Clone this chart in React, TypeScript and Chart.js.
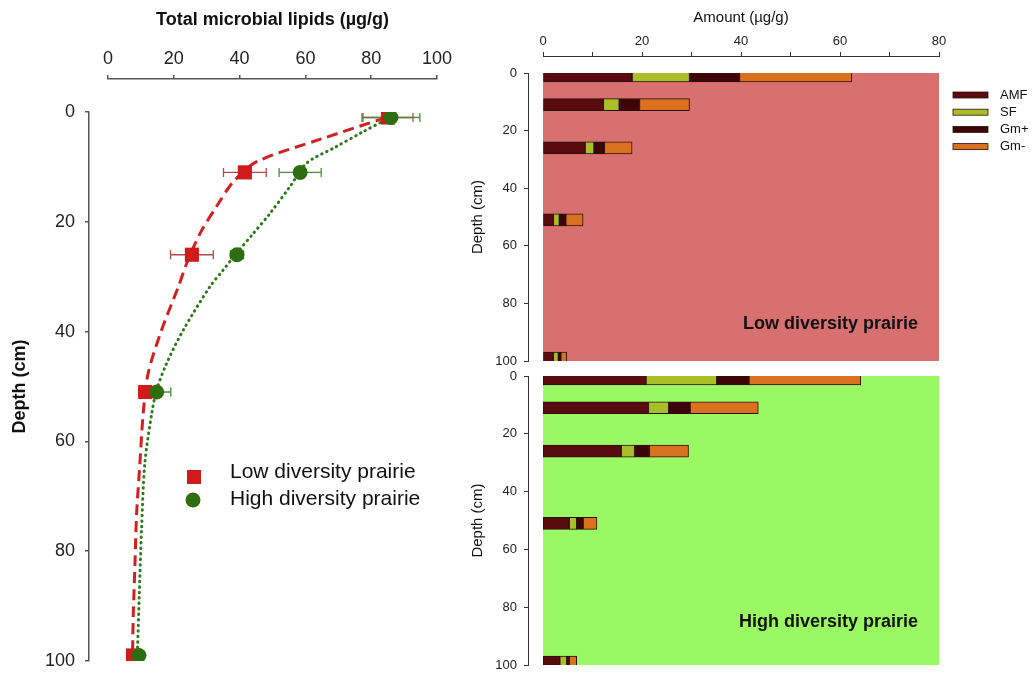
import React, { useEffect, useRef } from 'react';
import { Chart, registerables } from 'chart.js';

Chart.register(...registerables);
Chart.defaults.font.family = '"Liberation Sans", Arial, sans-serif';
Chart.defaults.color = '#222';

// ---------- Left panel: total microbial lipids ----------
const DEPTHS = [1, 11, 26, 51, 99];
const LOW_TOTAL = [85.1, 41.6, 25.5, 11.3, 7.6];
const LOW_ERR = [7.6, 6.5, 6.5, 2.0, 1.0];
const HIGH_TOTAL = [86.0, 58.4, 39.2, 14.8, 9.4];
const HIGH_ERR = [8.8, 6.4, 2.0, 4.3, 1.0];

// fitted curves
const LOW_FIT_X = [84.5, 64.4, 45.2, 38.1, 33.0, 28.0, 23.9, 21.4, 16.3, 12.2, 10.7, 9.7, 8.7, 8.2, 7.7, 7.5, 7.5];
const LOW_FIT_DEPTH = [1, 5.0, 9.05, 12.7, 17.2, 22.1, 27.6, 31.8, 39.7, 47.6, 54.9, 64.0, 73.1, 82.2, 91.3, 97.4, 99];
const HIGH_FIT_X = [85.7, 77.2, 68.8, 60.4, 55.3, 49.2, 44.2, 39.1, 35.0, 31.0, 22.9, 17.8, 14.8, 13.3, 11.2, 10.2, 9.5, 9.0, 8.9];
const HIGH_FIT_DEPTH = [1, 3.7, 6.5, 9.3, 13.6, 18.5, 22.1, 25.7, 28.8, 31.8, 39.7, 45.8, 50.6, 54.9, 64.0, 76.1, 88.3, 97.4, 99];

const LIPID_TICKS = [0, 20, 40, 60, 80, 100];
const DEPTH_TICKS = [0, 20, 40, 60, 80, 100];
const AMOUNT_TICKS = [0, 20, 40, 60, 80];

// ---------- Right panels: lipid groups ----------
const GROUPS = ['AMF', 'SF', 'Gm+', 'Gm-'];
const LOW_AMF = [18.0, 12.2, 8.5, 2.1, 2.1];
const LOW_SF = [11.6, 3.2, 1.8, 1.2, 1.0];
const LOW_GMP = [10.1, 4.1, 2.1, 1.3, 0.5];
const LOW_GMN = [22.7, 10.1, 5.6, 3.5, 1.2];
const HIGH_AMF = [20.8, 21.3, 15.8, 5.3, 3.4];
const HIGH_SF = [14.3, 4.1, 2.7, 1.5, 1.4];
const HIGH_GMP = [6.5, 4.3, 3.0, 1.3, 0.5];
const HIGH_GMN = [22.6, 13.8, 7.9, 2.8, 1.5];

const GROUP_COLORS = ['#5a0b0f', '#a9bf2a', '#3d0507', '#d9711f'];
const RED = '#cf1b1b';
const GREEN = '#2f6e10';

const AXIS_LEFT = '#555';
const AXIS_RIGHT = '#333';

function ChartCanvas(props: { left: number; top: number; width: number; height: number; make: () => any }) {
  const ref = useRef<HTMLCanvasElement>(null);
  useEffect(() => {
    const chart = new Chart(ref.current as HTMLCanvasElement, props.make());
    return () => chart.destroy();
  }, []);
  return (
    <canvas
      ref={ref}
      width={props.width}
      height={props.height}
      style={{ position: 'absolute', left: props.left, top: props.top, width: props.width, height: props.height, display: 'block' }}
    />
  );
}

const pts = (xs: number[], ys: number[]) => xs.map((x, i) => ({ x, y: ys[i] }));

// keep tick-label overflow from pushing the plot area
const fixVertical = (w: number) => (s: any) => {
  s.width = w;
  s.paddingTop = 0;
  s.paddingBottom = 0;
};
const fixHorizontal = (h: number, shown: boolean) => (s: any) => {
  s.height = shown ? h : 0;
};

function leftConfig() {
  const errorBars = {
    id: 'errorBars',
    beforeDatasetDraw(chart: any, args: any) {
      if (args.index !== 0) return;
      const { ctx } = chart;
      const x = chart.scales.x;
      const y = chart.scales.y;
      const draw = (vals: number[], errs: number[], color: string) => {
        ctx.save();
        ctx.strokeStyle = color;
        ctx.lineWidth = 1.3;
        for (let i = 0; i < vals.length; i++) {
          const py = y.getPixelForValue(DEPTHS[i]);
          const x1 = x.getPixelForValue(vals[i] - errs[i]);
          const x2 = x.getPixelForValue(vals[i] + errs[i]);
          ctx.beginPath();
          ctx.moveTo(x1, py);
          ctx.lineTo(x2, py);
          ctx.moveTo(x1, py - 4.5);
          ctx.lineTo(x1, py + 4.5);
          ctx.moveTo(x2, py - 4.5);
          ctx.lineTo(x2, py + 4.5);
          ctx.stroke();
        }
        ctx.restore();
      };
      draw(LOW_TOTAL, LOW_ERR, '#b84a4a');
      draw(HIGH_TOTAL, HIGH_ERR, '#4f8b3c');
    },
  };
  const legend = {
    id: 'innerLegend',
    afterDraw(chart: any) {
      const { ctx, chartArea } = chart;
      const l = chartArea.left;
      const t = chartArea.top;
      const ds = chart.data.datasets;
      ctx.save();
      ctx.fillStyle = ds[0].backgroundColor;
      ctx.fillRect(l + 79, t + 358, 14, 14);
      ctx.fillStyle = ds[1].backgroundColor;
      ctx.beginPath();
      ctx.arc(l + 85, t + 388, 7.5, 0, Math.PI * 2);
      ctx.fill();
      ctx.fillStyle = '#111';
      ctx.font = '21px "Liberation Sans", Arial, sans-serif';
      ctx.textBaseline = 'alphabetic';
      ctx.textAlign = 'left';
      ctx.fillText(ds[0].label, l + 122, t + 366);
      ctx.fillText(ds[1].label, l + 122, t + 393);
      ctx.restore();
    },
  };
  return {
    type: 'scatter',
    data: {
      datasets: [
        {
          label: 'Low diversity prairie',
          data: pts(LOW_TOTAL, DEPTHS),
          pointStyle: 'rect',
          pointRadius: 10,
          pointBorderWidth: 0,
          backgroundColor: RED,
          borderColor: RED,
          showLine: false,
          order: 1,
        },
        {
          label: 'High diversity prairie',
          data: pts(HIGH_TOTAL, DEPTHS),
          pointStyle: 'circle',
          pointRadius: 7.5,
          pointBorderWidth: 0,
          backgroundColor: GREEN,
          borderColor: GREEN,
          showLine: false,
          order: 0,
        },
        {
          label: 'Low fit',
          data: pts(LOW_FIT_X, LOW_FIT_DEPTH),
          showLine: true,
          pointRadius: 0,
          borderColor: '#d0201f',
          borderWidth: 3,
          borderDash: [11, 6],
          tension: 0.3,
          order: 3,
        },
        {
          label: 'High fit',
          data: pts(HIGH_FIT_X, HIGH_FIT_DEPTH),
          showLine: true,
          pointRadius: 0,
          borderColor: '#2d7a1a',
          borderWidth: 3,
          borderDash: [0.5, 5],
          borderCapStyle: 'round',
          tension: 0.3,
          order: 2,
        },
      ],
    },
    options: {
      responsive: false,
      animation: false,
      events: [],
      layout: { padding: { left: 0, right: 33, top: 0, bottom: 13 } },
      plugins: { legend: { display: false }, tooltip: { enabled: false } },
      scales: {
        x: {
          type: 'linear',
          position: 'top',
          min: 0,
          max: 100,
          weight: 1,
          afterBuildTicks: (s: any) => { s.ticks = LIPID_TICKS.map((v) => ({ value: v })); },
          ticks: { font: { size: 18 }, padding: 5, color: '#222' },
          grid: { drawOnChartArea: false, tickLength: 4, color: AXIS_LEFT, lineWidth: 1.5 },
          border: { color: AXIS_LEFT, width: 1.5 },
          title: { display: true, text: 'Total microbial lipids (µg/g)', font: { size: 18, weight: 'bold' }, color: '#111', padding: { top: 9, bottom: 0 } },
          afterFit: fixHorizontal(79, true),
        },
        gapX: {
          type: 'linear',
          axis: 'x',
          position: 'top',
          weight: 0,
          grid: { display: false },
          border: { display: false },
          ticks: { display: false },
          afterFit: fixHorizontal(33, true),
        },
        y: {
          type: 'linear',
          position: 'left',
          reverse: true,
          min: 0,
          max: 100,
          weight: 1,
          afterBuildTicks: (s: any) => { s.ticks = DEPTH_TICKS.map((v) => ({ value: v })); },
          ticks: { font: { size: 18 }, padding: 10, color: '#222' },
          grid: { drawOnChartArea: false, tickLength: 4, color: AXIS_LEFT, lineWidth: 1.5 },
          border: { color: AXIS_LEFT, width: 1.5 },
          title: { display: true, text: 'Depth (cm)', font: { size: 18, weight: 'bold' }, color: '#111', padding: { top: 9, bottom: 0 } },
          afterFit: fixVertical(89),
        },
        gapY: {
          type: 'linear',
          axis: 'y',
          position: 'left',
          weight: 0,
          grid: { display: false },
          border: { display: false },
          ticks: { display: false },
          afterFit: fixVertical(19),
        },
      },
    },
    plugins: [errorBars, legend],
  };
}

function rightConfig(series: number[][], bg: string, label: string, showTop: boolean, padTop: number, padBottom: number, labelFromBottom: number, showLegend: boolean) {
  const background = {
    id: 'panelBg',
    beforeDatasetsDraw(chart: any) {
      const { ctx, chartArea } = chart;
      ctx.save();
      ctx.fillStyle = bg;
      ctx.fillRect(chartArea.left, chartArea.top, chartArea.right - chartArea.left, chartArea.bottom - chartArea.top);
      ctx.restore();
    },
    afterDraw(chart: any) {
      const { ctx, chartArea } = chart;
      ctx.save();
      ctx.fillStyle = '#111';
      ctx.font = 'bold 18px "Liberation Sans", Arial, sans-serif';
      ctx.textAlign = 'right';
      ctx.textBaseline = 'alphabetic';
      ctx.fillText(label, chartArea.right - 21, chartArea.bottom - labelFromBottom);
      if (showLegend) {
        ctx.font = '13px "Liberation Sans", Arial, sans-serif';
        ctx.textAlign = 'left';
        ctx.textBaseline = 'middle';
        chart.data.datasets.forEach((ds: any, k: number) => {
          const cy = chartArea.top + 22 + k * 17.2;
          ctx.fillStyle = ds.backgroundColor;
          ctx.fillRect(chartArea.right + 14, cy - 3, 35, 6);
          ctx.strokeStyle = '#2b1010';
          ctx.lineWidth = 0.8;
          ctx.strokeRect(chartArea.right + 14, cy - 3, 35, 6);
          ctx.fillStyle = '#111';
          ctx.fillText(ds.label, chartArea.right + 61, cy);
        });
      }
      ctx.restore();
    },
  };
  return {
    type: 'bar',
    data: {
      datasets: GROUPS.map((g, k) => ({
        label: g,
        data: pts(series[k], DEPTHS),
        backgroundColor: GROUP_COLORS[k],
        borderColor: '#2b1010',
        borderWidth: 1,
        borderSkipped: false,
        barThickness: 12,
        clip: 0,
        stack: 's',
        xAxisID: 'x',
        yAxisID: 'y',
      })),
    },
    options: {
      indexAxis: 'y',
      responsive: false,
      animation: false,
      events: [],
      layout: { padding: { left: 0, right: 93, top: padTop, bottom: padBottom } },
      plugins: { legend: { display: false }, tooltip: { enabled: false } },
      scales: {
        x: {
          type: 'linear',
          position: 'top',
          stacked: true,
          min: 0,
          max: 80,
          display: showTop,
          weight: 1,
          ticks: {
            stepSize: 10,
            font: { size: 13 },
            padding: 3,
            color: '#222',
            callback: (v: number) => (AMOUNT_TICKS.includes(v) ? String(v) : ''),
          },
          grid: { drawOnChartArea: false, tickLength: 4, color: AXIS_RIGHT },
          border: { color: AXIS_RIGHT },
          title: { display: true, text: 'Amount (µg/g)', font: { size: 15 }, color: '#111', padding: { top: 9, bottom: 0 } },
          afterFit: fixHorizontal(56, showTop),
        },
        gapX: {
          type: 'linear',
          axis: 'x',
          position: 'top',
          display: showTop,
          weight: 0,
          grid: { display: false },
          border: { display: false },
          ticks: { display: false },
          afterFit: fixHorizontal(17, showTop),
        },
        y: {
          type: 'linear',
          position: 'left',
          reverse: true,
          stacked: true,
          offset: false,
          min: 0,
          max: 100,
          weight: 1,
          afterBuildTicks: (s: any) => { s.ticks = DEPTH_TICKS.map((v) => ({ value: v })); },
          ticks: { font: { size: 13 }, padding: 7, color: '#222' },
          grid: { drawOnChartArea: false, offset: false, tickLength: 4, color: AXIS_RIGHT },
          border: { color: AXIS_RIGHT },
          title: { display: true, text: 'Depth (cm)', font: { size: 15 }, color: '#111', padding: { top: 9, bottom: 0 } },
          afterFit: fixVertical(68),
        },
        gapY: {
          type: 'linear',
          axis: 'y',
          position: 'left',
          weight: 0,
          grid: { display: false },
          border: { display: false },
          ticks: { display: false },
          afterFit: fixVertical(15),
        },
      },
    },
    plugins: [background],
  };
}

export default function App() {
  return (
    <div style={{ position: 'absolute', left: 0, top: 0, width: 1032, height: 674, background: '#fff', overflow: 'hidden' }}>
      <ChartCanvas left={0} top={0} width={470} height={674} make={leftConfig} />
      <ChartCanvas
        left={460}
        top={0}
        width={572}
        height={368}
        make={() => rightConfig([LOW_AMF, LOW_SF, LOW_GMP, LOW_GMN], '#d87070', 'Low diversity prairie', true, 0, 7, 32, true)}
      />
      <ChartCanvas
        left={460}
        top={368}
        width={572}
        height={306}
        make={() => rightConfig([HIGH_AMF, HIGH_SF, HIGH_GMP, HIGH_GMN], '#9af862', 'High diversity prairie', false, 8, 9, 38, false)}
      />
    </div>
  );
}
